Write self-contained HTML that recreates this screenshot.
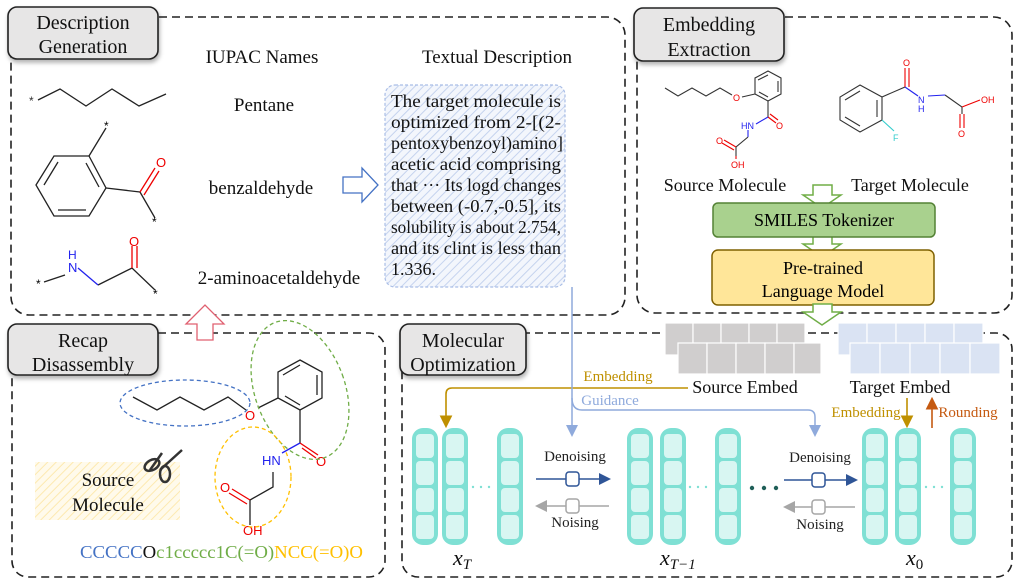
<!DOCTYPE html>
<html><head><meta charset="utf-8"><style>
html,body{margin:0;padding:0;background:#fff}
svg{display:block}
text{font-family:"Liberation Serif",serif}
.s{font-family:"Liberation Sans",sans-serif}
</style></head><body>
<svg width="1018" height="580" viewBox="0 0 1018 580" xmlns="http://www.w3.org/2000/svg">
<defs>
<pattern id="hb" width="6" height="6" patternUnits="userSpaceOnUse" patternTransform="rotate(45)"><rect width="6" height="6" fill="#f3f6fc"/><line x1="0" y1="0" x2="0" y2="6" stroke="#c5d3ee" stroke-width="2"/></pattern>
<pattern id="hy" width="6" height="6" patternUnits="userSpaceOnUse" patternTransform="rotate(45)"><rect width="6" height="6" fill="#fffaeb"/><line x1="0" y1="0" x2="0" y2="6" stroke="#fde9b0" stroke-width="2"/></pattern>
<filter id="sh" x="-10%" y="-10%" width="130%" height="150%"><feDropShadow dx="1" dy="3" stdDeviation="2" flood-color="#000" flood-opacity="0.3"/></filter>
<marker id="ag" markerWidth="8" markerHeight="8" refX="6" refY="4" orient="auto"><path d="M0,0 L8,4 L0,8z" fill="#bf9000"/></marker>
<marker id="ab" markerWidth="8" markerHeight="8" refX="6" refY="4" orient="auto"><path d="M0,0 L8,4 L0,8z" fill="#8faadc"/></marker>
<marker id="ad" markerWidth="8" markerHeight="8" refX="6" refY="4" orient="auto"><path d="M0,0 L8,4 L0,8z" fill="#2f5597"/></marker>
<marker id="agr" markerWidth="8" markerHeight="8" refX="6" refY="4" orient="auto"><path d="M0,0 L8,4 L0,8z" fill="#a6a6a6"/></marker>
<marker id="ao" markerWidth="8" markerHeight="8" refX="6" refY="4" orient="auto"><path d="M0,0 L8,4 L0,8z" fill="#c55a11"/></marker>
<g id="col"><rect x="0" y="0" width="26" height="117" rx="11" fill="#7fe0d4"/><rect x="4" y="6" width="18" height="24" rx="4" fill="#d8f6f2"/><rect x="4" y="33" width="18" height="24" rx="4" fill="#d8f6f2"/><rect x="4" y="60" width="18" height="24" rx="4" fill="#d8f6f2"/><rect x="4" y="87" width="18" height="24" rx="4" fill="#d8f6f2"/></g>
</defs>

<g fill="none" stroke="#222" stroke-width="1.6" stroke-dasharray="8,5">
<rect x="11" y="17" width="614" height="298" rx="18"/>
<rect x="637" y="17" width="375" height="296" rx="18"/>
<rect x="12" y="333" width="373" height="244" rx="16"/>
<rect x="402" y="333" width="610" height="244" rx="16"/>
</g>

<g filter="url(#sh)" fill="#e7e6e6" stroke="#222" stroke-width="1.6">
<rect x="8" y="7" width="150" height="52" rx="9"/>
<rect x="634" y="8" width="150" height="53" rx="9"/>
<rect x="8" y="324" width="150" height="51" rx="9"/>
<rect x="400" y="324" width="126" height="51" rx="9"/>
</g>
<g font-size="20" text-anchor="middle" fill="#111">
<text x="83" y="29">Description</text><text x="83" y="53">Generation</text>
<text x="709" y="31">Embedding</text><text x="709" y="56">Extraction</text>
<text x="83" y="347">Recap</text><text x="83" y="371">Disassembly</text>
<text x="463" y="347">Molecular</text><text x="463" y="371">Optimization</text>
</g>

<g font-size="19" text-anchor="middle" fill="#111">
<text x="262" y="63">IUPAC Names</text>
<text x="497" y="63">Textual Description</text>
<text x="264" y="111">Pentane</text>
<text x="261" y="194">benzaldehyde</text>
<text x="279" y="284">2-aminoacetaldehyde</text>
</g>
<g fill="none" stroke="#222" stroke-width="1.3">
<polyline points="38,100 60,89 86,106 112,89 139,106 166,94"/>
<polygon points="36,185 54,156 89,156 106,188 89,216 54,216"/>
<line x1="44" y1="185" x2="58" y2="162"/><line x1="58" y1="210" x2="86" y2="210"/><line x1="86" y1="163" x2="99" y2="187"/>
<line x1="89" y1="156" x2="106" y2="128"/>
<line x1="106" y1="188" x2="140" y2="192"/>
<line x1="140" y1="192" x2="155" y2="218"/>
<polyline points="98,285 132,268 155,290"/>
<line x1="44" y1="282" x2="65" y2="275"/>
</g>
<g stroke="#e00" stroke-width="1.3"><line x1="140" y1="192" x2="155" y2="168"/><line x1="144" y1="195" x2="159" y2="171"/><line x1="132" y1="268" x2="132" y2="246"/><line x1="137" y1="268" x2="137" y2="246"/></g>
<line x1="78" y1="268" x2="98" y2="285" stroke="#22e" stroke-width="1.3"/>
<g font-size="12"><text x="29" y="105" class="s" fill="#333">*</text><text x="104" y="130" class="s">*</text><text x="152" y="226" class="s">*</text><text x="36" y="288" class="s">*</text><text x="153" y="298" class="s">*</text>
<text x="156" y="167" class="s" fill="#e00" font-size="13">O</text><text x="129" y="246" class="s" fill="#e00" font-size="13">O</text>
<text x="68" y="259" class="s" fill="#22e" font-size="12">H</text><text x="68" y="272" class="s" fill="#22e" font-size="13">N</text></g>

<path d="M343,177 L362,177 L362,168 L378,185 L362,202 L362,193 L343,193z" fill="#fff" stroke="#4472c4" stroke-width="1.3"/>

<rect x="385" y="85" width="180" height="202" rx="10" fill="url(#hb)" stroke="#a9bde6" stroke-width="1.2" stroke-dasharray="3,2"/>
<g font-size="18" fill="#111">
<text x="391" y="107" textLength="170" lengthAdjust="spacingAndGlyphs">The target molecule is</text>
<text x="391" y="128" textLength="170" lengthAdjust="spacingAndGlyphs">optimized from 2-[(2-</text>
<text x="391" y="149">pentoxybenzoyl)amino]</text>
<text x="391" y="170" textLength="170" lengthAdjust="spacingAndGlyphs">acetic acid comprising</text>
<text x="391" y="191" textLength="170" lengthAdjust="spacingAndGlyphs">that ··· Its logd changes</text>
<text x="391" y="212" textLength="170" lengthAdjust="spacingAndGlyphs">between (-0.7,-0.5], its</text>
<text x="391" y="233" textLength="170" lengthAdjust="spacingAndGlyphs">solubility is about 2.754,</text>
<text x="391" y="254" textLength="170" lengthAdjust="spacingAndGlyphs">and its clint is less than</text>
<text x="391" y="275">1.336.</text>
</g>

<g fill="none" stroke="#333" stroke-width="1.1">
<polyline points="665,88 678,96 692,88 706,96 720,88 732,95"/>
<polygon points="768,71 781,78 781,94 768,101 755,94 755,78"/>
<line x1="758" y1="80" x2="768" y2="75"/><line x1="778" y1="81" x2="778" y2="92"/><line x1="759" y1="92" x2="768" y2="97"/>
<line x1="742" y1="97" x2="755" y2="94"/>
<line x1="768" y1="101" x2="768" y2="117"/>
<line x1="748" y1="130" x2="748" y2="137" stroke="#22e"/>
<polyline points="748,137 736,147 736,156"/>
<polygon points="860,85 882,97 882,120 860,132 840,120 840,97"/>
<line x1="845" y1="100" x2="860" y2="91"/><line x1="845" y1="117" x2="860" y2="126"/><line x1="877" y1="100" x2="877" y2="117"/>
<line x1="882" y1="97" x2="905" y2="87"/>
<polyline points="945,95 962,107 962,114"/>
</g>
<g stroke="#e00" stroke-width="1.1" fill="none"><line x1="768" y1="117" x2="776" y2="123"/><line x1="770" y1="114" x2="778" y2="120"/><line x1="736" y1="147" x2="724" y2="140"/><line x1="734" y1="150" x2="722" y2="143"/><line x1="736" y1="156" x2="736" y2="159"/>
<line x1="905" y1="87" x2="905" y2="68"/><line x1="909" y1="87" x2="909" y2="68"/><line x1="962" y1="107" x2="980" y2="100"/><line x1="960" y1="114" x2="960" y2="128"/><line x1="964" y1="114" x2="964" y2="128"/></g>
<g stroke="#22e" stroke-width="1.1"><line x1="768" y1="117" x2="756" y2="124"/><line x1="905" y1="87" x2="918" y2="96"/><line x1="928" y1="96" x2="945" y2="95"/></g>
<line x1="882" y1="120" x2="894" y2="131" stroke="#3cc" stroke-width="1.1"/>
<g font-size="9"><text x="733" y="101" class="s" fill="#e00">O</text><text x="741" y="129" class="s" fill="#22e">HN</text><text x="776" y="129" class="s" fill="#e00">O</text><text x="716" y="144" class="s" fill="#e00">O</text><text x="731" y="168" class="s" fill="#e00">OH</text>
<text x="903" y="66" class="s" fill="#e00">O</text><text x="918" y="103" class="s" fill="#22e">N</text><text x="918" y="112" class="s" fill="#22e">H</text><text x="981" y="103" class="s" fill="#e00">OH</text><text x="958" y="137" class="s" fill="#e00">O</text><text x="893" y="141" class="s" fill="#3cc">F</text></g>
<g font-size="18" text-anchor="middle" fill="#111"><text x="725" y="191">Source Molecule</text><text x="910" y="191">Target Molecule</text></g>

<g fill="#fff" stroke="#70ad47" stroke-width="1.5">
<path d="M813,185 L832,185 L832,195 L841,195 L822,208 L803,195 L813,195z"/>
<path d="M813,236 L832,236 L832,244 L841,244 L822,257 L803,244 L813,244z"/>
</g>
<rect x="713" y="203" width="222" height="34" rx="5" fill="#a9d18e" stroke="#548235" stroke-width="1.5"/>
<text x="824" y="226" font-size="18" text-anchor="middle">SMILES Tokenizer</text>
<rect x="712" y="250" width="222" height="55" rx="6" fill="#ffe699" stroke="#7f6000" stroke-width="1.5"/>
<text x="823" y="274" font-size="18" text-anchor="middle">Pre-trained</text>
<text x="823" y="297" font-size="18" text-anchor="middle">Language Model</text>
<path d="M813,304 L832,304 L832,312 L841,312 L822,325 L803,312 L813,312z" fill="#fff" stroke="#70ad47" stroke-width="1.5"/>

<g stroke="#fff" stroke-width="1.2">
<g fill="#d0cece"><rect x="665" y="323" width="28" height="32"/><rect x="693" y="323" width="28" height="32"/><rect x="721" y="323" width="28" height="32"/><rect x="749" y="323" width="28" height="32"/><rect x="777" y="323" width="28" height="32"/>
<rect x="678" y="343" width="29" height="31"/><rect x="707" y="343" width="29" height="31"/><rect x="736" y="343" width="29" height="31"/><rect x="765" y="343" width="29" height="31"/><rect x="794" y="343" width="27" height="31"/></g>
<g fill="#dae3f3"><rect x="838" y="323" width="29" height="32"/><rect x="867" y="323" width="29" height="32"/><rect x="896" y="323" width="29" height="32"/><rect x="925" y="323" width="29" height="32"/><rect x="954" y="323" width="29" height="32"/>
<rect x="850" y="343" width="30" height="31"/><rect x="880" y="343" width="30" height="31"/><rect x="910" y="343" width="30" height="31"/><rect x="940" y="343" width="30" height="31"/><rect x="970" y="343" width="30" height="31"/></g>
</g>

<g font-size="18" fill="#111" text-anchor="middle"><text x="745" y="393">Source Embed</text><text x="900" y="393">Target Embed</text></g>
<text x="618" y="381" font-size="15" fill="#bf9000" text-anchor="middle">Embedding</text>
<text x="610" y="405" font-size="15" fill="#8faadc" text-anchor="middle">Guidance</text>
<path d="M688,388 L452,388 Q446,388 446,394 L446,425" fill="none" stroke="#bf9000" stroke-width="1.6" marker-end="url(#ag)"/>
<line x1="572" y1="287" x2="572" y2="434" stroke="#8faadc" stroke-width="1.5" marker-end="url(#ab)"/>
<path d="M572,398 Q572,410 582,410 L808,410 Q815,410 815,417 L815,434" fill="none" stroke="#8faadc" stroke-width="1.5" marker-end="url(#ab)"/>
<line x1="907" y1="398" x2="907" y2="425" stroke="#bf9000" stroke-width="1.6" marker-end="url(#ag)"/>
<line x1="932" y1="428" x2="932" y2="400" stroke="#c55a11" stroke-width="1.6" marker-end="url(#ao)"/>
<text x="866" y="417" font-size="15" fill="#bf9000" text-anchor="middle">Embedding</text>
<text x="968" y="417" font-size="15" fill="#c55a11" text-anchor="middle">Rounding</text>

<use href="#col" x="412" y="428"/><use href="#col" x="442" y="428"/><use href="#col" x="497" y="428"/>
<use href="#col" x="627" y="428"/><use href="#col" x="660" y="428"/><use href="#col" x="715" y="428"/>
<use href="#col" x="862" y="428"/><use href="#col" x="895" y="428"/><use href="#col" x="950" y="428"/>
<g fill="#7fe0d4"><circle cx="473" cy="487" r="1.2"/><circle cx="481" cy="487" r="1.2"/><circle cx="489" cy="487" r="1.2"/>
<circle cx="690" cy="487" r="1.2"/><circle cx="698" cy="487" r="1.2"/><circle cx="706" cy="487" r="1.2"/>
<circle cx="926" cy="487" r="1.2"/><circle cx="934" cy="487" r="1.2"/><circle cx="942" cy="487" r="1.2"/></g>
<g fill="#1f5f58"><circle cx="752" cy="488" r="2.2"/><circle cx="764" cy="488" r="2.2"/><circle cx="776" cy="488" r="2.2"/></g>

<g font-size="15" fill="#222" text-anchor="middle"><text x="575" y="461">Denoising</text><text x="575" y="527">Noising</text><text x="820" y="462">Denoising</text><text x="820" y="529">Noising</text></g>
<line x1="536" y1="479" x2="608" y2="479" stroke="#2f5597" stroke-width="1.5" marker-end="url(#ad)"/>
<line x1="609" y1="506" x2="538" y2="506" stroke="#a6a6a6" stroke-width="1.5" marker-end="url(#agr)"/>
<line x1="784" y1="480" x2="855" y2="480" stroke="#2f5597" stroke-width="1.5" marker-end="url(#ad)"/>
<line x1="855" y1="507" x2="786" y2="507" stroke="#a6a6a6" stroke-width="1.5" marker-end="url(#agr)"/>
<g fill="#fff" stroke-width="1.5"><rect x="566" y="472" width="13" height="14" rx="3" stroke="#2f5597"/><rect x="566" y="499" width="13" height="14" rx="3" stroke="#a6a6a6"/>
<rect x="812" y="473" width="13" height="14" rx="3" stroke="#2f5597"/><rect x="812" y="500" width="13" height="14" rx="3" stroke="#a6a6a6"/></g>
<g font-size="22" font-style="italic" fill="#111"><text x="453" y="565">x<tspan font-size="15" dy="4">T</tspan></text><text x="660" y="565">x<tspan font-size="15" dy="4">T−1</tspan></text><text x="906" y="565">x<tspan font-size="15" dy="4" font-style="normal">0</tspan></text></g>

<path d="M197,340 L213,340 L213,324 L224,324 L205,305 L186,324 L197,324z" fill="#fff" stroke="#e06070" stroke-width="1.3"/>
<rect x="35" y="462" width="145" height="58" fill="url(#hy)"/>
<g font-size="19" text-anchor="middle" fill="#111"><text x="108" y="486">Source</text><text x="108" y="511">Molecule</text></g>
<g fill="none" stroke="#333" stroke-width="2.5"><path d="M150,470 l12,-17 M160,470 l22,-20"/><ellipse cx="152" cy="465" rx="8" ry="5" transform="rotate(-30 152 465)"/><ellipse cx="165" cy="474" rx="5" ry="8"/></g>
<g fill="none" stroke="#222" stroke-width="1.3">
<polyline points="133,397 157,410 180,397 204,410 228,397 246,410"/>
<polygon points="300,360 322,372 322,398 300,410 278,398 278,372"/>
<line x1="283" y1="375" x2="300" y2="365"/><line x1="317" y1="375" x2="317" y2="395"/><line x1="285" y1="396" x2="300" y2="405"/>
<line x1="258" y1="408" x2="278" y2="398"/>
<line x1="300" y1="410" x2="300" y2="443"/>
<polyline points="273,472 273,487 250,500 250,525"/>
</g>
<g stroke="#e00" stroke-width="1.3"><line x1="300" y1="443" x2="318" y2="455"/><line x1="302" y1="448" x2="316" y2="458"/><line x1="250" y1="500" x2="232" y2="489"/><line x1="247" y1="504" x2="229" y2="493"/></g>
<line x1="300" y1="443" x2="282" y2="453" stroke="#22e" stroke-width="1.3"/>
<g font-size="13"><text x="245" y="420" class="s" fill="#e00">O</text><text x="262" y="465" class="s" fill="#22e">HN</text><text x="316" y="466" class="s" fill="#e00">O</text><text x="220" y="492" class="s" fill="#e00">O</text><text x="243" y="535" class="s" fill="#e00">OH</text></g>
<g fill="none" stroke-width="1.3" stroke-dasharray="4,3">
<ellipse cx="185" cy="403" rx="65" ry="23" stroke="#4472c4"/>
<ellipse cx="300" cy="390" rx="45" ry="72" stroke="#70ad47" transform="rotate(-20 300 390)"/>
<ellipse cx="253" cy="477" rx="38" ry="50" stroke="#ffc000"/>
</g>
<text x="80" y="558" font-size="18" textLength="283" lengthAdjust="spacingAndGlyphs"><tspan fill="#4472c4">CCCCC</tspan><tspan fill="#111">O</tspan><tspan fill="#70ad47">c1ccccc1C(=O)</tspan><tspan fill="#ffc000">NCC(=O)O</tspan></text>
</svg>
</body></html>
